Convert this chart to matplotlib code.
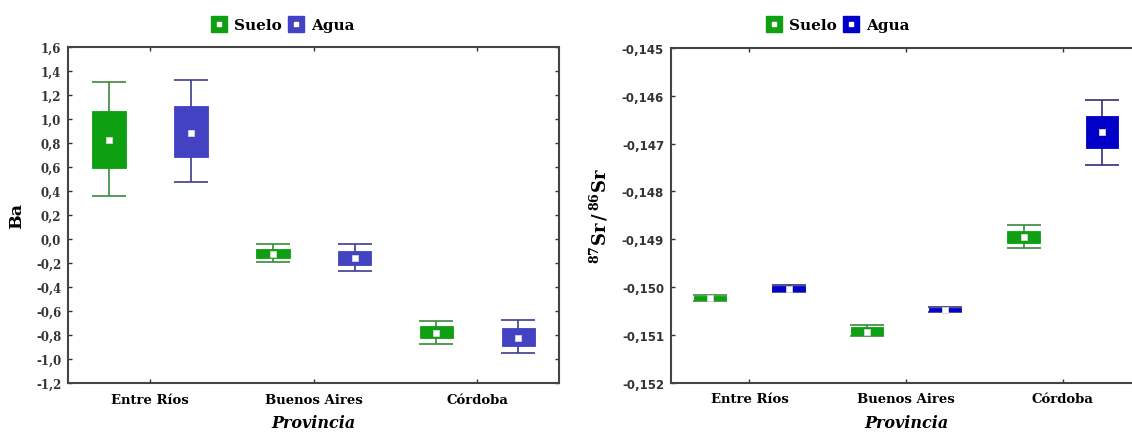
import numpy as np
import matplotlib
matplotlib.use("Agg")
import matplotlib.pyplot as plt
from matplotlib.lines import Line2D
from matplotlib.ticker import FixedLocator, FuncFormatter

# categorias y series
provincias = ["Entre Ríos", "Buenos Aires", "Córdoba"]
series = ["Suelo", "Agua"]

# Ba: media, caja (inf, sup), bigotes (inf, sup)
ba_suelo_media = [0.83, -0.124, -0.783]
ba_suelo_caja_inf = [0.59, -0.160, -0.827]
ba_suelo_caja_sup = [1.07, -0.080, -0.722]
ba_suelo_big_inf = [0.356, -0.188, -0.875]
ba_suelo_big_sup = [1.31, -0.041, -0.685]

ba_agua_media = [0.889, -0.160, -0.822]
ba_agua_caja_inf = [0.685, -0.216, -0.889]
ba_agua_caja_sup = [1.11, -0.096, -0.741]
ba_agua_big_inf = [0.473, -0.266, -0.950]
ba_agua_big_sup = [1.326, -0.041, -0.674]

# 87Sr/86Sr
sr_suelo_media = [-0.15023, -0.150935, -0.148948]
sr_suelo_caja_inf = [-0.15027, -0.150998, -0.149073]
sr_suelo_caja_sup = [-0.15018, -0.150837, -0.148822]
sr_suelo_big_inf = [-0.15030, -0.151031, -0.149190]
sr_suelo_big_sup = [-0.15017, -0.150795, -0.148697]

sr_agua_media = [-0.15004, -0.150481, -0.146764]
sr_agua_caja_inf = [-0.15008, -0.150508, -0.147092]
sr_agua_caja_sup = [-0.14998, -0.150439, -0.146416]
sr_agua_big_inf = [-0.15011, -0.150529, -0.147448]
sr_agua_big_sup = [-0.14995, -0.150418, -0.146082]

SERIF = "DejaVu Serif"
plt.rcParams["mathtext.fontset"] = "dejavuserif"

fig = plt.figure(figsize=(11.32, 4.35), dpi=100)
ax1 = fig.add_axes([0.0603, 0.117, 0.4337, 0.772])
ax2 = fig.add_axes([0.5928, 0.118, 0.4152, 0.7696])


def dibujar_cajas(ax, x, media, c_inf, c_sup, b_inf, b_sup, color, color_linea):
    media = np.array(media)
    c_inf = np.array(c_inf)
    c_sup = np.array(c_sup)
    b_inf = np.array(b_inf)
    b_sup = np.array(b_sup)
    ax.errorbar(x, media, yerr=[media - b_inf, b_sup - media], fmt="none",
                ecolor=color_linea, elinewidth=1.2, capsize=12.5, capthick=1.2, zorder=2)
    ax.bar(x, c_sup - c_inf, bottom=c_inf, width=0.205, color=color,
           edgecolor=color, linewidth=0.6, zorder=3)
    ax.plot(x, media, ls="none", marker="s", markersize=4.5, mfc="white",
            mec="#d8d8d8", mew=0.6, zorder=4)


def estilo_ejes(ax, fuente_ticks):
    ax.set_xlim(-0.5, 2.5)
    ax.set_xticks(range(len(provincias)))
    ax.set_xticklabels(provincias, fontfamily=SERIF, fontweight="bold", fontsize=9.5)
    ax.tick_params(direction="in", length=3, width=1, color="#333333",
                   top=True, right=True, pad=7)
    ax.tick_params(axis="y", pad=5)
    for lab in ax.get_yticklabels():
        lab.set_fontfamily(fuente_ticks)
        lab.set_fontweight("bold")
        lab.set_fontsize(8.5)
        lab.set_color("#333333")
    for s in ax.spines.values():
        s.set_color("#444444")
        s.set_linewidth(1.5)
    ax.set_xlabel("Provincia", fontfamily=SERIF, fontweight="bold",
                  fontstyle="italic", fontsize=11.5, labelpad=6)


x = np.arange(len(provincias))
off = 0.25

# panel Ba
verde1, azul1 = "#0f9f12", "#4242c2"
dibujar_cajas(ax1, x - off, ba_suelo_media, ba_suelo_caja_inf, ba_suelo_caja_sup,
              ba_suelo_big_inf, ba_suelo_big_sup, verde1, "#3a8a3a")
dibujar_cajas(ax1, x + off, ba_agua_media, ba_agua_caja_inf, ba_agua_caja_sup,
              ba_agua_big_inf, ba_agua_big_sup, azul1, "#3c3c8e")
ax1.set_ylim(-1.2, 1.6)
ax1.yaxis.set_major_locator(FixedLocator(np.round(np.arange(-1.2, 1.61, 0.2), 1)))
ax1.yaxis.set_major_formatter(FuncFormatter(lambda v, p: f"{v:.1f}".replace(".", ",").replace("-0,0", "0,0")))
estilo_ejes(ax1, SERIF)
ax1.set_ylabel("Ba", fontfamily=SERIF, fontweight="bold", fontsize=12.5, labelpad=8)

# panel Sr (el borde derecho queda fuera de la figura)
verde2, azul2 = "#0f9f12", "#0000c8"
dibujar_cajas(ax2, x - off, sr_suelo_media, sr_suelo_caja_inf, sr_suelo_caja_sup,
              sr_suelo_big_inf, sr_suelo_big_sup, verde2, "#3a8a3a")
dibujar_cajas(ax2, x + off, sr_agua_media, sr_agua_caja_inf, sr_agua_caja_sup,
              sr_agua_big_inf, sr_agua_big_sup, azul2, "#30307a")
ax2.set_ylim(-0.152, -0.145)
ax2.yaxis.set_major_locator(FixedLocator(np.round(np.arange(-0.152, -0.14499, 0.001), 3)))
ax2.yaxis.set_major_formatter(FuncFormatter(lambda v, p: f"{v:.3f}".replace(".", ",")))
estilo_ejes(ax2, "DejaVu Sans")
ax2.spines["right"].set_visible(False)
ax2.tick_params(right=False)
ax2.set_ylabel(r"$\mathbf{^{87}Sr\,/\,^{86}Sr}$", fontsize=13, labelpad=8)


def leyenda(cx, c_suelo, c_agua):
    handles = []
    for c in (c_suelo, c_agua):
        handles.append((Line2D([], [], ls="none", marker="s", markersize=11, color=c),
                        Line2D([], [], ls="none", marker="s", markersize=3.5,
                               mfc="white", mec="white")))
    fig.legend(handles, series, loc="center", bbox_to_anchor=(cx, 1 - 26 / 435),
               ncol=2, frameon=False, handlelength=1.0, handletextpad=0.5,
               columnspacing=0.4, prop={"family": SERIF, "weight": "bold", "size": 11})


leyenda(283 / 1132, verde1, azul1)
leyenda(838 / 1132, verde2, azul2)

fig.savefig("out.png", dpi=100)
